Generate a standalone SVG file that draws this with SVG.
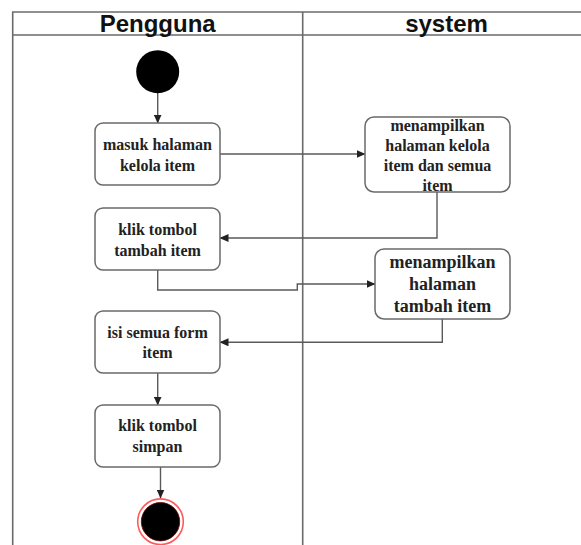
<svg xmlns="http://www.w3.org/2000/svg" width="581" height="545" viewBox="0 0 581 545">
  <defs>
    <marker id="arrow" markerWidth="9" markerHeight="8" refX="8.5" refY="4" orient="auto" markerUnits="userSpaceOnUse">
      <path d="M0,0 L9,4 L0,8 Z" fill="#222"/>
    </marker>
    <style>
      .lane { stroke: #6a6a6a; stroke-width: 1.6; fill: none; }
      .head { font-family: "Liberation Sans", Arial, sans-serif; font-weight: bold; font-size: 24px; fill: #111; text-anchor: middle; }
      .box { fill: #fff; stroke: #6a6a6a; stroke-width: 1.5; }
      .lbl { font-family: "Liberation Serif", "Times New Roman", serif; font-weight: bold; font-size: 16px; fill: #222; text-anchor: middle; }
      .big { font-size: 18px; }
      .edge { fill: none; stroke: #5a5a5a; stroke-width: 1.4; marker-end: url(#arrow); }
    </style>
  </defs>
  <rect width="581" height="545" fill="#fff"/>

  <!-- swimlanes -->
  <g id="lanes">
    <line class="lane" x1="12" y1="12" x2="581" y2="12"/>
    <line class="lane" x1="12" y1="35" x2="581" y2="35"/>
    <line class="lane" x1="12.7" y1="12" x2="12.7" y2="545" stroke-width="2"/>
    <line class="lane" x1="302.7" y1="12" x2="302.7" y2="545"/>
    <text class="head" x="157.7" y="31.5">Pengguna</text>
    <text class="head" x="446.5" y="31.5">system</text>
  </g>

  <!-- connectors -->
  <g id="connectors">
    <path class="edge" d="M157.7,93 V123"/>
    <path class="edge" d="M220,154 H365"/>
    <path class="edge" d="M437,192 V238 H220"/>
    <path class="edge" d="M157.7,270 V290 H297.3 V284 H375"/>
    <path class="edge" d="M442.3,319 V342.3 H220"/>
    <path class="edge" d="M157.7,373 V405"/>
    <path class="edge" d="M160.5,467 V498"/>
  </g>

  <g id="start">
    <circle cx="157.7" cy="71.7" r="21.5" fill="#000"/>
  </g>

  <g id="masuk-halaman">
    <rect class="box" x="95" y="123" width="125" height="62" rx="8"/>
    <text class="lbl" x="157.5" y="150">masuk halaman</text>
    <text class="lbl" x="157.5" y="170.5">kelola item</text>
  </g>

  <g id="tampil-kelola">
    <rect class="box" x="365" y="117" width="145" height="75" rx="9"/>
    <text class="lbl" x="437.5" y="130.5">menampilkan</text>
    <text class="lbl" x="437.5" y="150.5">halaman kelola</text>
    <text class="lbl" x="437.5" y="170.5">item dan semua</text>
    <text class="lbl" x="437.5" y="190.5">item</text>
  </g>

  <g id="klik-tambah">
    <rect class="box" x="95" y="208" width="125" height="62" rx="8"/>
    <text class="lbl" x="157.5" y="235">klik tombol</text>
    <text class="lbl" x="157.5" y="255.5">tambah item</text>
  </g>

  <g id="tampil-tambah">
    <rect class="box" x="375" y="249" width="135" height="70" rx="9"/>
    <text class="lbl big" x="442.5" y="268">menampilkan</text>
    <text class="lbl big" x="442.5" y="289.5">halaman</text>
    <text class="lbl big" x="442.5" y="311.5">tambah item</text>
  </g>

  <g id="isi-form">
    <rect class="box" x="95" y="311" width="125" height="62" rx="8"/>
    <text class="lbl" x="157.5" y="337.5">isi semua form</text>
    <text class="lbl" x="157.5" y="358">item</text>
  </g>

  <g id="klik-simpan">
    <rect class="box" x="95" y="405" width="125" height="62" rx="8"/>
    <text class="lbl" x="157.5" y="431">klik tombol</text>
    <text class="lbl" x="157.5" y="451.5">simpan</text>
  </g>

  <g id="end">
    <circle cx="160.5" cy="521.7" r="22.8" fill="#fff" stroke="#ff5a5a" stroke-width="1.6"/>
    <circle cx="160.5" cy="521.7" r="19.2" fill="#000" stroke="#6b0000" stroke-width="0.8"/>
  </g>
</svg>
